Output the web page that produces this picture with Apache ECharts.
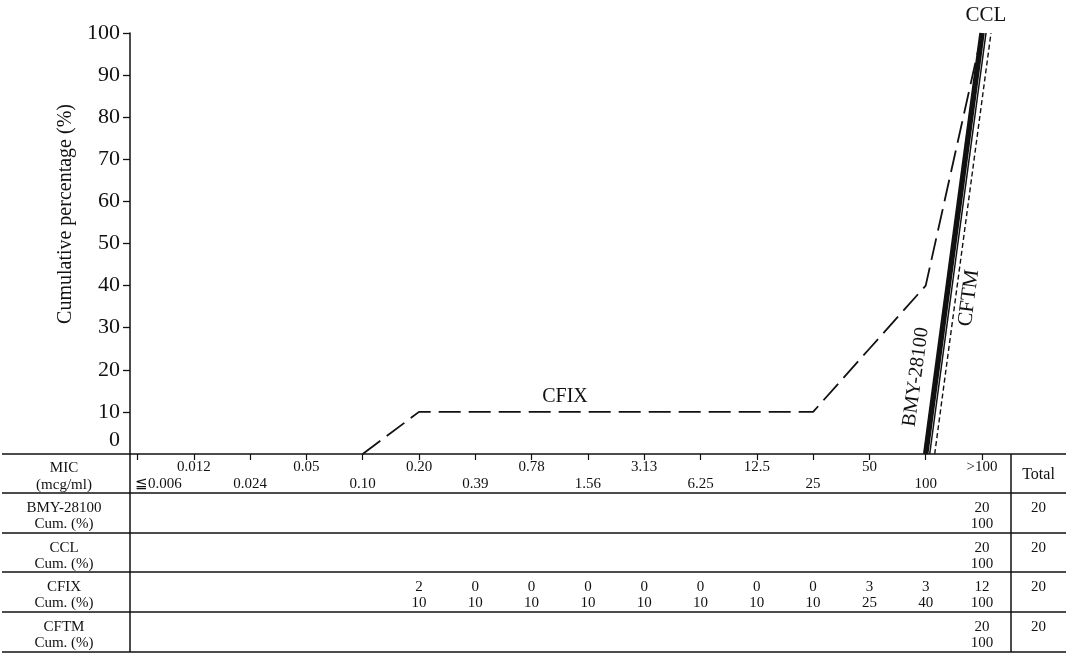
<!DOCTYPE html>
<html>
<head>
<meta charset="utf-8">
<title>Cumulative MIC distribution</title>
<script src="https://cdn.jsdelivr.net/npm/echarts@6/dist/echarts.min.js"></script>
<style>
  html, body { margin: 0; padding: 0; background: #fff; }
  #chart { width: 1071px; height: 655px; }
</style>
</head>
<body>
<div id="chart"></div>
<script>
// MIC (mcg/ml) columns
const micLabels = ['≦0.006', '0.012', '0.024', '0.05', '0.10', '0.20', '0.39', '0.78',
                   '1.56', '3.13', '6.25', '12.5', '25', '50', '100', '>100'];

// Number of strains per MIC column (null = empty cell)
const bmyCount  = [null, null, null, null, null, null, null, null, null, null, null, null, null, null, null, 20];
const cclCount  = [null, null, null, null, null, null, null, null, null, null, null, null, null, null, null, 20];
const cfixCount = [null, null, null, null, null, 2, 0, 0, 0, 0, 0, 0, 0, 3, 3, 12];
const cftmCount = [null, null, null, null, null, null, null, null, null, null, null, null, null, null, null, 20];

// Cumulative percentage per MIC column
const bmyCum  = [null, null, null, null, null, null, null, null, null, null, null, null, null, null, null, 100];
const cclCum  = [null, null, null, null, null, null, null, null, null, null, null, null, null, null, null, 100];
const cfixCum = [null, null, null, null, null, 10, 10, 10, 10, 10, 10, 10, 10, 25, 40, 100];
const cftmCum = [null, null, null, null, null, null, null, null, null, null, null, null, null, null, null, 100];

const totals = [20, 20, 20, 20];
const rowNames = ['BMY-28100', 'CCL', 'CFIX', 'CFTM'];
const yTicks = [0, 10, 20, 30, 40, 50, 60, 70, 80, 90, 100];

// Curve starts at 0 % in the column just before the first non-empty one
function curve(cum) {
  const out = cum.slice();
  const first = out.findIndex(v => v !== null);
  if (first > 0) out[first - 1] = 0;
  return out;
}

const FONT = '"Liberation Serif", "Times New Roman", serif';
const INK = '#111';
const CELL_FONT = '15px ' + FONT;

const chart = echarts.init(document.getElementById('chart'), null, { renderer: 'canvas' });

const gridBase = { top: 33, bottom: 201, left: 137.5, right: 89 };
function hiddenX(gi) {
  return { gridIndex: gi, type: 'category', boundaryGap: false, data: micLabels, show: false };
}
function hiddenY(gi) {
  return { gridIndex: gi, type: 'value', min: 0, max: 100, interval: 10, show: false };
}

chart.setOption({
  animation: false,
  backgroundColor: '#fff',
  grid: [
    gridBase,
    Object.assign({}, gridBase, { left: gridBase.left + 4, right: gridBase.right - 4 }),
    Object.assign({}, gridBase, { left: gridBase.left + 9, right: gridBase.right - 9 })
  ],
  xAxis: [
    {
      gridIndex: 0, type: 'category', boundaryGap: false, data: micLabels,
      axisLine: { show: false },
      axisTick: { show: true, length: 6, inside: false, lineStyle: { color: INK, width: 1.2 } },
      axisLabel: { show: false },
      splitLine: { show: false }
    },
    hiddenX(1), hiddenX(2)
  ],
  yAxis: [
    {
      gridIndex: 0, type: 'value', min: 0, max: 100, interval: 10, offset: 7.5,
      axisLine: { show: true, lineStyle: { color: INK, width: 1.5 } },
      axisTick: {
        show: true, length: 7, inside: false, lineStyle: { color: INK, width: 1.3 },
        customValues: yTicks.filter(v => v > 0)
      },
      axisLabel: {
        margin: 10, color: INK, fontFamily: FONT, fontSize: 22,
        customValues: yTicks,
        formatter: v => (v === 0 ? '{z|0}' : String(v)),
        rich: { z: { fontFamily: FONT, fontSize: 22, color: INK, padding: [0, 0, 27, 0] } }
      },
      splitLine: { show: false }
    },
    hiddenY(1), hiddenY(2)
  ],
  series: [
    {
      name: 'CFIX', type: 'line', xAxisIndex: 0, yAxisIndex: 0, data: curve(cfixCum),
      symbol: 'none', lineStyle: { color: INK, width: 1.8, type: [22, 8] }
    },
    {
      name: 'BMY-28100', type: 'line', xAxisIndex: 0, yAxisIndex: 0, data: curve(bmyCum),
      symbol: 'none', lineStyle: { color: INK, width: 5.5 }
    },
    {
      name: 'CCL', type: 'line', xAxisIndex: 1, yAxisIndex: 1, data: curve(cclCum),
      symbol: 'none', lineStyle: { color: INK, width: 1.5 }
    },
    {
      name: 'CFTM', type: 'line', xAxisIndex: 2, yAxisIndex: 2, data: curve(cftmCum),
      symbol: 'none', lineStyle: { color: INK, width: 1.4, type: [5, 3] }
    }
  ]
});

// ---- table under the plot, columns aligned with the MIC axis ----
const colX = micLabels.map((_, i) => chart.convertToPixel({ xAxisIndex: 0 }, i));
const axisY = chart.convertToPixel({ yAxisIndex: 0 }, 0);
const yAxisX = colX[0] - 7.5;
const rowLines = [axisY, 493, 533, 572, 612, 652];
const tableLeft = 2, tableRight = 1066, totalX = 1011;

const g = [];
function hline(y) {
  g.push({ type: 'line', shape: { x1: tableLeft, y1: y, x2: tableRight, y2: y },
           style: { stroke: INK, lineWidth: 1.5 }, z: 10 });
}
function vline(x, y1, y2) {
  g.push({ type: 'line', shape: { x1: x, y1: y1, x2: x, y2: y2 },
           style: { stroke: INK, lineWidth: 1.5 }, z: 10 });
}
function txt(s, x, y, opt) {
  g.push(Object.assign({
    type: 'text', x: x, y: y, z: 11,
    style: Object.assign({ text: s, fill: INK, font: CELL_FONT,
                           textAlign: 'center', textVerticalAlign: 'middle' }, (opt && opt.style) || {})
  }, opt && opt.rotation !== undefined ? { rotation: opt.rotation } : {}));
}

rowLines.forEach(hline);
vline(yAxisX, axisY, rowLines[rowLines.length - 1]);
vline(totalX, axisY, rowLines[rowLines.length - 1]);

const leftMid = (tableLeft + yAxisX) / 2 - 2;
// header row
txt('MIC', leftMid, 468);
txt('(mcg/ml)', leftMid, 485);
micLabels.forEach((lab, i) => {
  const y = i % 2 === 1 ? 467 : 484;
  if (i === 0) txt(lab, yAxisX + 5, y, { style: { textAlign: 'left' } });
  else txt(lab, colX[i], y);
});
txt('Total', (totalX + tableRight) / 2, 475, { style: { font: '16px ' + FONT } });

// data rows
const counts = [bmyCount, cclCount, cfixCount, cftmCount];
const cums = [bmyCum, cclCum, cfixCum, cftmCum];
rowNames.forEach((name, r) => {
  const top = rowLines[r + 1];
  txt(name, leftMid, top + 15);
  txt('Cum. (%)', leftMid, top + 31);
  counts[r].forEach((c, i) => {
    if (c === null) return;
    txt(String(c), colX[i], top + 15);
    txt(String(cums[r][i]), colX[i], top + 31);
  });
  txt(String(totals[r]), (totalX + tableRight) / 2, top + 15);
});

// axis title and curve names
txt('Cumulative percentage (%)', 66, 214,
    { rotation: Math.PI / 2, style: { font: '20px ' + FONT } });
txt('CCL', 986, 15, { style: { font: '21px ' + FONT } });
txt('CFIX', 565, 397, { style: { font: '20px ' + FONT } });
const tilt = 82.3 * Math.PI / 180;
txt('BMY-28100', 916, 377, { rotation: tilt, style: { font: '20px ' + FONT } });
txt('CFTM', 969, 298, { rotation: tilt, style: { font: '21px ' + FONT } });

chart.setOption({ graphic: { elements: g } });
</script>
</body>
</html>
